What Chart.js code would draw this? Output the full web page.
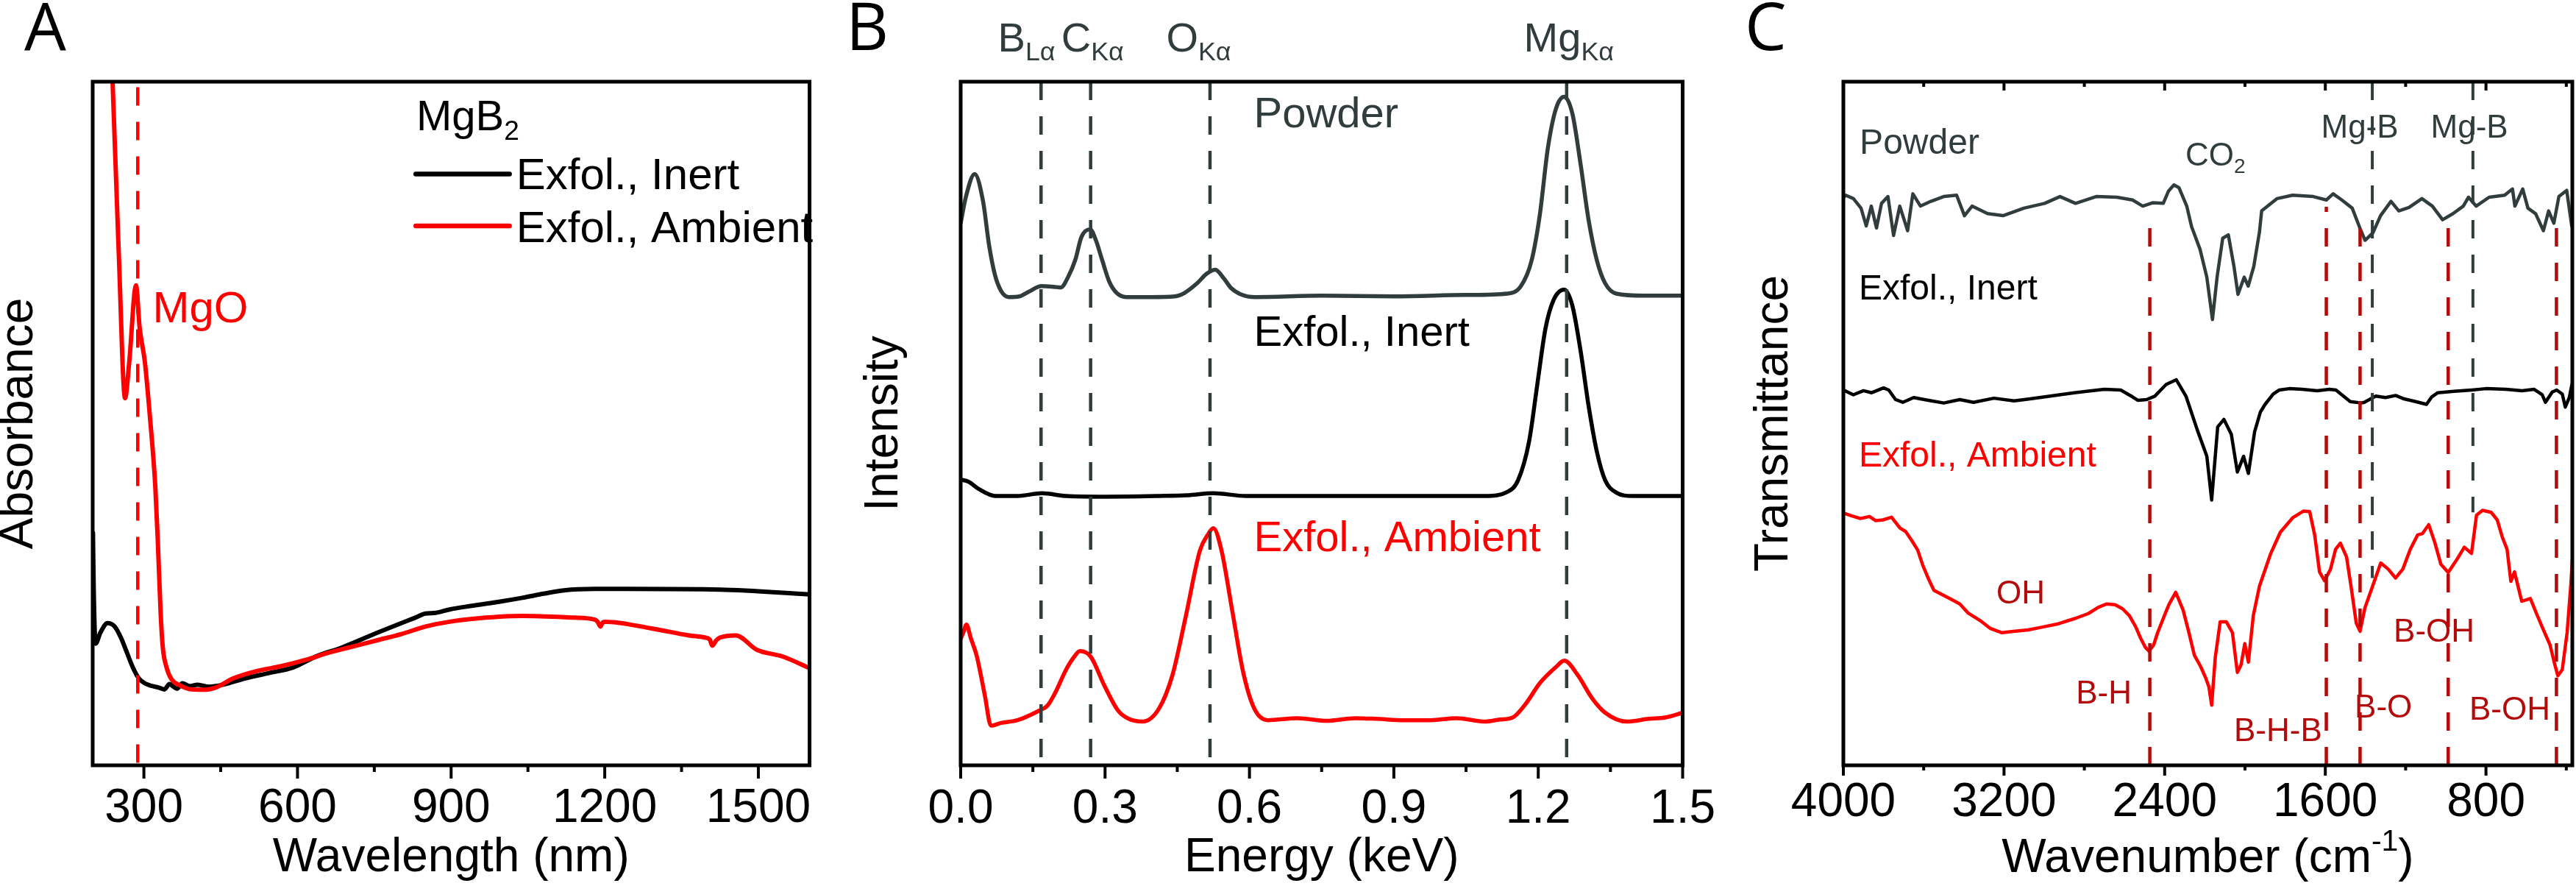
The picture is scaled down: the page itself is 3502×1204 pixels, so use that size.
<!DOCTYPE html>
<html>
<head>
<meta charset="utf-8">
<script src="https://cdn.jsdelivr.net/npm/chart.js@4.4.1/dist/chart.umd.min.js"></script>
<style>
  html, body { margin: 0; padding: 0; background: #ffffff; }
  #wrap { position: relative; width: 3502px; height: 1204px; overflow: hidden; background: #ffffff; }
  canvas { position: absolute; top: 0; }
</style>
</head>
<body>
<div id="wrap">
  <canvas id="cA" width="1130" height="1204" style="left:0px"></canvas>
  <canvas id="cB" width="1230" height="1204" style="left:1130px"></canvas>
  <canvas id="cC" width="1142" height="1204" style="left:2360px"></canvas>
</div>
<script>
// ---------------- DATA ----------------
// Panel A: UV-vis absorbance (arbitrary units, 0-100 of the axis)
const uvInertNm = [200.5, 202, 205.6, 215, 229, 243, 255, 266.8, 278.6, 290.3, 304.4, 316, 328, 340, 350, 356, 365, 375, 389, 405, 427, 455, 497, 544, 591, 638.5, 685.5, 756, 803, 830, 850, 870, 897, 937.5, 1000, 1039, 1080, 1120.6, 1180, 1242.7, 1425.7, 1600];
const uvInertAbs = [34, 25.8, 17.8, 19.4, 20.8, 20.3, 18.7, 16.5, 14.3, 12.7, 11.9, 11.6, 11.4, 11.1, 11.9, 11.6, 11.2, 12.0, 11.6, 11.8, 11.5, 11.8, 12.7, 13.5, 14.3, 16, 17.2, 19.4, 20.8, 21.6, 22.2, 22.3, 22.8, 23.3, 24.0, 24.5, 25.1, 25.6, 25.8, 25.8, 25.7, 25];
const uvAmbientNm = [236, 238.8, 251, 263.2, 271.4, 284.6, 291.7, 301.9, 312, 322.2, 327.3, 332.7, 337, 344.4, 353.8, 370.3, 393.8, 417.3, 441, 473.8, 520.8, 568, 615, 662, 709, 756, 803, 850, 897, 937.5, 1039, 1140.6, 1181, 1186, 1191.5, 1196, 1201.6, 1293, 1364.4, 1395, 1405, 1410, 1418, 1425.7, 1456, 1497, 1548, 1600];
const uvAmbientAbs = [108, 100.1, 74.8, 53.7, 59, 70.2, 64, 59, 50.8, 40.9, 32.6, 22.3, 17.2, 14.3, 12.6, 11.7, 11.1, 11.05, 11.4, 12.7, 13.8, 14.5, 15.4, 16.5, 17.4, 18.3, 19.2, 20.3, 21, 21.4, 21.85, 21.6, 21.3, 21.0, 20.3, 20.9, 21, 20, 19, 18.7, 18.4, 17.5, 18.3, 18.7, 19, 16.9, 15.9, 14.2];
const uvMgOLineNm = 288;
const uvTickValues = [300, 600, 900, 1200, 1500];
const uvTickLabels = ['300', '600', '900', '1200', '1500'];
const uvMinorTicks = [450, 750, 1050, 1350];

// Panel B: EDS intensity (offset traces)
const edsPowderKeV = [0, 0.011, 0.029, 0.0465, 0.059, 0.071, 0.084, 0.1, 0.122, 0.142, 0.168, 0.193, 0.208, 0.223, 0.238, 0.251, 0.269, 0.281, 0.294, 0.309, 0.324, 0.344, 0.395, 0.445, 0.465, 0.491, 0.511, 0.529, 0.547, 0.562, 0.582, 0.612, 0.75, 0.9, 1.05, 1.136, 1.164, 1.186, 1.203, 1.22, 1.237, 1.254, 1.271, 1.288, 1.305, 1.322, 1.339, 1.362, 1.42, 1.5];
const edsPowderCounts = [79.3, 83.2, 86.5, 82.5, 76.1, 71.8, 69.4, 68.5, 68.6, 69.3, 70.1, 70, 69.9, 71.4, 73.9, 77.3, 78.4, 76.8, 73.9, 70.7, 69.1, 68.5, 68.5, 68.6, 69.1, 70.5, 71.9, 72.5, 71.2, 69.8, 68.9, 68.5, 68.7, 68.6, 68.8, 69, 70.1, 73.8, 80.4, 90.3, 96.1, 97.8, 95.3, 87.9, 79.6, 73.8, 70.5, 69, 68.7, 68.7];
const edsInertKeV = [0, 0.016, 0.038, 0.072, 0.118, 0.169, 0.219, 0.3, 0.412, 0.47, 0.525, 0.593, 0.8, 1.09, 1.136, 1.158, 1.181, 1.198, 1.215, 1.232, 1.254, 1.271, 1.288, 1.305, 1.322, 1.339, 1.362, 1.396, 1.5];
const edsInertCounts = [41.8, 41.5, 40.4, 39.4, 39.4, 39.8, 39.4, 39.3, 39.4, 39.5, 39.8, 39.4, 39.4, 39.4, 40, 41.7, 47.4, 55.7, 63.9, 68.1, 69.6, 67.2, 60.6, 52.4, 45.8, 41.7, 39.9, 39.4, 39.4];
const edsAmbientKeV = [0, 0.006, 0.012, 0.021, 0.033, 0.05, 0.063, 0.084, 0.118, 0.163, 0.18, 0.197, 0.219, 0.235, 0.248, 0.27, 0.299, 0.327, 0.349, 0.378, 0.412, 0.44, 0.468, 0.497, 0.514, 0.525, 0.542, 0.564, 0.587, 0.61, 0.638, 0.7, 0.76, 0.82, 0.864, 0.92, 0.977, 1.03, 1.09, 1.12, 1.147, 1.175, 1.203, 1.237, 1.254, 1.282, 1.311, 1.339, 1.384, 1.43, 1.464, 1.5];
const edsAmbientCounts = [18.5, 19.5, 20.6, 18.6, 16.1, 10.3, 5.8, 6.2, 6.6, 8, 8.7, 10.7, 14, 15.8, 16.7, 15.9, 11.6, 8, 6.8, 6.4, 8.3, 13.2, 21.9, 31.4, 33.8, 34.7, 31.4, 22.7, 13.6, 8.3, 6.6, 6.9, 6.5, 6.9, 6.8, 6.6, 6.6, 6.9, 6.4, 6.7, 7, 9.1, 12, 14.4, 15.3, 13.2, 9.9, 7.7, 6.4, 6.8, 7, 7.7];
const edsLineKeV = [0.167, 0.27, 0.518, 1.259];
const edsTickValues = [0, 0.3, 0.6, 0.9, 1.2, 1.5];
const edsTickLabels = ['0.0', '0.3', '0.6', '0.9', '1.2', '1.5'];
const edsMinorTicks = [0.15, 0.45, 0.75, 1.05, 1.35];

// Panel C: FTIR transmittance (offset traces)
const ftirPowderCm = [4000, 3989, 3950, 3912, 3886, 3861, 3835, 3810, 3778, 3750, 3719, 3680, 3654, 3616, 3564, 3500, 3436, 3397, 3359, 3282, 3205, 3101, 2998, 2921, 2844, 2741, 2638, 2560, 2509, 2458, 2407, 2381, 2354, 2329, 2290, 2266, 2224, 2190, 2162, 2139, 2111, 2083, 2055, 2035, 2004, 1984, 1956, 1928, 1917, 1840, 1763, 1660, 1595, 1561, 1518, 1466, 1428, 1402, 1363, 1325, 1273, 1234, 1183, 1119, 1067, 1016, 964, 913, 887, 849, 784, 707, 668, 656, 617, 591, 553, 514, 488, 462, 437, 398, 373];
const ftirPowderT = [83, 83.4, 82.9, 81.5, 78.9, 81.8, 78.6, 82.2, 83.2, 77.5, 81.8, 78.2, 83.6, 81.8, 82.5, 83.2, 83.4, 80.4, 81.8, 80.7, 80.4, 81.5, 82.2, 83.2, 82.2, 83.2, 83.1, 82.7, 81.8, 82.3, 82.2, 84, 84.9, 84.5, 81.8, 78.8, 75.5, 71.4, 65.2, 71.4, 77.1, 77.6, 73, 68.9, 71.4, 70.1, 73, 78, 81.1, 82.9, 83.4, 83.2, 82.7, 83.6, 82.7, 81.5, 78.6, 76.8, 77.9, 80.4, 82.5, 81.1, 81.6, 82.9, 81.8, 79.8, 80.7, 81.8, 83.1, 81.8, 83.1, 83.4, 84.3, 81.8, 84.3, 81.5, 80.7, 78.2, 81.1, 79.3, 83.2, 84.1, 78.9];
const ftirInertCm = [4000, 3950, 3900, 3859, 3800, 3774, 3740, 3704, 3650, 3577, 3500, 3420, 3352, 3250, 3150, 3070, 2950, 2850, 2788, 2700, 2619, 2560, 2534, 2490, 2449, 2393, 2342, 2294, 2238, 2190, 2166, 2136, 2105, 2068, 2038, 2007, 1983, 1952, 1923, 1900, 1860, 1829, 1780, 1716, 1640, 1580, 1547, 1476, 1420, 1406, 1349, 1300, 1250, 1208, 1150, 1096, 1070, 1040, 960, 870, 800, 701, 620, 560, 520, 504, 470, 448, 420, 405, 385, 372];
const ftirInertT = [54.9, 54.2, 54.8, 54.5, 55.2, 54.9, 53.5, 53.1, 53.8, 53.4, 53.0, 53.5, 53.1, 53.7, 53.3, 53.6, 54.1, 54.5, 54.7, 55.0, 54.9, 53.9, 53.4, 53.5, 54, 55.7, 56.4, 54, 49.1, 45.2, 38.8, 49.5, 50.6, 48.4, 42.9, 45.2, 42.7, 48.8, 51.7, 52.8, 54.3, 54.9, 55.1, 55, 54.8, 55.0, 54.9, 53.2, 53.0, 53.1, 54, 53.8, 54.1, 53.6, 53.2, 52.8, 53.9, 54.5, 54.7, 54.9, 55.1, 55, 54.8, 55, 54.2, 53.1, 54.6, 54.9, 54.3, 52.4, 53.8, 55.7];
const ftirAmbientCm = [4000, 3960, 3915, 3870, 3840, 3803, 3760, 3718, 3690, 3662, 3630, 3605, 3575, 3549, 3510, 3464, 3420, 3380, 3320, 3267, 3210, 3154, 3080, 3013, 2930, 2844, 2780, 2731, 2690, 2647, 2610, 2576, 2545, 2520, 2495, 2478, 2455, 2435, 2400, 2379, 2345, 2308, 2280, 2252, 2220, 2196, 2180, 2166, 2148, 2123.5, 2093, 2062.6, 2038, 2019.5, 2001, 1983, 1958.6, 1928, 1873, 1824, 1763, 1708, 1678, 1653, 1629, 1604, 1574, 1549, 1525, 1494.5, 1470, 1446, 1427, 1403, 1360, 1324, 1287, 1250, 1214, 1177, 1140.5, 1116, 1085, 1055, 1024.5, 988, 945, 908, 872, 847, 817, 774, 744, 719, 695, 676, 658, 622, 579, 548.5, 518, 481, 457, 442, 420, 396, 377, 370];
const ftirAmbientT = [36.9, 36.5, 36.1, 36.4, 35.8, 35.9, 36.3, 34.7, 34.2, 33, 31.5, 29.3, 27.2, 25.6, 25.0, 24.3, 23.6, 22.3, 21.2, 20, 19.4, 19.6, 19.8, 20.2, 20.7, 21.5, 22.2, 23.1, 23.6, 23.5, 22.9, 21.9, 20.3, 18.6, 17.2, 16.7, 17.6, 19.4, 22.0, 23.5, 25.3, 22.7, 19.5, 16.1, 14.4, 12.8, 11.5, 8.8, 15.8, 21, 21, 19.4, 13.6, 14.7, 17.8, 15.1, 21.9, 26.2, 30.9, 34.1, 36.2, 37.2, 37.1, 33.7, 28.3, 27, 28.7, 31.6, 32.5, 30.5, 25.8, 20.8, 19.6, 23, 26.6, 29.6, 28.7, 27.4, 28.7, 31.6, 33.7, 33.9, 35.2, 32.6, 29.4, 28.2, 30.1, 31.9, 31, 36.6, 37.3, 37, 35.9, 33.4, 31.6, 26.9, 28.3, 24, 24.4, 22.2, 20.1, 17.6, 14.7, 13.1, 14, 19.4, 26.6, 30];
const ftirBondLineCm = [2474, 1595, 1427, 988, 449];
const ftirBondLineTop = [80.9, 81.7, 78.5, 78.8, 78.8];
const ftirMgBLineCm = [1366, 865];
const ftirMgBLineBottom = [27.4, 37];
const ftirTickValues = [4000, 3200, 2400, 1600, 800];
const ftirTickLabels = ['4000', '3200', '2400', '1600', '800'];
const ftirMinorTicks = [3600, 2800, 2000, 1200, 400];

// ---------------- STYLE / HELPERS ----------------
const FONT = "'Liberation Sans', Arial, Helvetica, sans-serif";
const RED = '#ff0000';
const DARKRED = '#b30b0b';
const GRAY = '#313d3d';
Chart.defaults.font.family = FONT;
Chart.defaults.color = '#000';

const pts = (xs, ys) => xs.map((x, i) => ({ x: x, y: ys[i] }));

function series(xs, ys, color, width, smooth) {
  return {
    data: pts(xs, ys), borderColor: color, borderWidth: width, pointRadius: 0, fill: false,
    tension: 0, cubicInterpolationMode: smooth ? 'monotone' : 'default',
    borderJoinStyle: 'round', borderCapStyle: 'round'
  };
}
function vline(x, y0, y1, color, width) {
  return {
    data: [{ x: x, y: y0 }, { x: x, y: y1 }], borderColor: color, borderWidth: width,
    borderDash: [25, 22], pointRadius: 0, fill: false, tension: 0, borderCapStyle: 'butt'
  };
}

function drawRich(ctx, parts, x, y, size, color, align) {
  ctx.save();
  ctx.fillStyle = color;
  ctx.textBaseline = 'alphabetic';
  ctx.textAlign = 'left';
  const segs = parts.map(p => {
    const s = (p.sub || p.sup) ? size * 0.64 : size;
    ctx.font = s + 'px ' + FONT;
    return { t: p.t, s: s, w: ctx.measureText(p.t).width, dy: p.sub ? size * 0.22 : (p.sup ? -size * 0.45 : 0) };
  });
  const total = segs.reduce((a, s) => a + s.w, 0);
  let cx = align === 'center' ? x - total / 2 : x;
  segs.forEach(s => { ctx.font = s.s + 'px ' + FONT; ctx.fillText(s.t, cx, y + s.dy); cx += s.w; });
  ctx.restore();
}

function panelPlugin(cfg) {
  return {
    id: 'panel' + cfg.letter,
    afterDraw(chart) {
      const ctx = chart.ctx, a = chart.chartArea, xs = chart.scales.x, ys = chart.scales.y;
      ctx.save();
      ctx.strokeStyle = '#000';
      ctx.lineWidth = 4;
      ctx.lineCap = 'butt';
      cfg.ticks.forEach(t => {
        const px = xs.getPixelForValue(t.v);
        ctx.beginPath();
        if (t.side === 'top') { ctx.moveTo(px, a.top); ctx.lineTo(px, a.top + t.len); }
        else { ctx.moveTo(px, a.bottom); ctx.lineTo(px, a.bottom + t.len); }
        ctx.stroke();
      });
      ctx.lineWidth = cfg.frame;
      ctx.strokeRect(a.left, a.top, a.right - a.left, a.bottom - a.top);
      (cfg.keys || []).forEach(k => {
        ctx.strokeStyle = k.color; ctx.lineWidth = 6.5; ctx.lineCap = 'round';
        ctx.beginPath();
        ctx.moveTo(xs.getPixelForValue(k.x0), ys.getPixelForValue(k.y));
        ctx.lineTo(xs.getPixelForValue(k.x1), ys.getPixelForValue(k.y));
        ctx.stroke();
      });
      cfg.texts.forEach(t => drawRich(ctx, t.parts, xs.getPixelForValue(t.x), ys.getPixelForValue(t.y), t.size, t.color, 'left'));
      if (cfg.xTitleParts) {
        drawRich(ctx, cfg.xTitleParts, (a.left + a.right) / 2, cfg.xTitleBaseline, 64, '#000', 'center');
      }
      ctx.fillStyle = '#000';
      ctx.font = "90px 'Open Sans', 'Liberation Sans', sans-serif";
      ctx.textBaseline = 'alphabetic';
      ctx.textAlign = 'left';
      ctx.fillText(cfg.letter, cfg.letterX, 68);
      ctx.restore();
    }
  };
}

function makeChart(id, o) {
  return new Chart(document.getElementById(id), {
    type: 'line',
    data: { datasets: o.datasets },
    options: {
      responsive: false, animation: false, devicePixelRatio: 1,
      layout: { padding: { top: 111, right: o.padRight, bottom: 0, left: 0 } },
      plugins: { legend: { display: false }, tooltip: { enabled: false } },
      scales: {
        x: {
          type: 'linear', min: o.xMin, max: o.xMax, reverse: !!o.reverse,
          afterFit: s => { s.height = 164; },
          afterBuildTicks: s => { s.ticks = o.tickValues.map(v => ({ value: v })); },
          grid: { display: false, drawTicks: false }, border: { display: false },
          ticks: {
            autoSkip: false, maxRotation: 0, minRotation: 0, padding: o.tickPad, color: '#000',
            font: { size: 64, lineHeight: 1 },
            callback: v => o.tickLabels[o.tickValues.indexOf(v)]
          },
          title: {
            display: !!o.xTitle, text: o.xTitle || '', color: '#000',
            font: { size: 64, lineHeight: 1 }, padding: { top: 0, bottom: 6 }
          }
        },
        y: {
          type: 'linear', min: 0, max: 100,
          afterFit: s => { s.width = o.yWidth; },
          grid: { display: false, drawTicks: false }, border: { display: false },
          ticks: { display: false },
          title: {
            display: true, text: o.yTitle, color: '#000',
            font: { size: 64, lineHeight: 0.8 }, padding: { top: o.yTitlePad, bottom: 0 }
          }
        }
      }
    },
    plugins: [panelPlugin(o.panel)]
  });
}

// ---------------- PANEL A ----------------
makeChart('cA', {
  xMin: 200, xMax: 1600, padRight: 12, yWidth: 126, tickPad: 27, yTitlePad: 1,
  tickValues: uvTickValues, tickLabels: uvTickLabels,
  xTitle: 'Wavelength (nm)', yTitle: 'Absorbance',
  datasets: [
    vline(uvMgOLineNm, 99.2, 0, RED, 4.5),
    series(uvAmbientNm, uvAmbientAbs, RED, 6, true),
    series(uvInertNm, uvInertAbs, '#000', 6, true)
  ],
  panel: {
    letter: 'A', letterX: 33, frame: 5,
    ticks: uvTickValues.map(v => ({ v: v, len: 18 })).concat(uvMinorTicks.map(v => ({ v: v, len: 9 }))),
    keys: [
      { x0: 831, x1: 1014, y: 86.5, color: '#000' },
      { x0: 831, x1: 1014, y: 78.9, color: RED }
    ],
    texts: [
      { parts: [{ t: 'MgO' }], x: 317, y: 64.8, size: 60, color: RED },
      { parts: [{ t: 'MgB' }, { t: '2', sub: true }], x: 832, y: 92.9, size: 58, color: '#000' },
      { parts: [{ t: 'Exfol., Inert' }], x: 1027, y: 84.3, size: 60, color: '#000' },
      { parts: [{ t: 'Exfol., Ambient' }], x: 1027, y: 76.5, size: 60, color: '#000' }
    ]
  }
});

// ---------------- PANEL B ----------------
makeChart('cB', {
  xMin: 0, xMax: 1.5, padRight: 64, yWidth: 176, tickPad: 28, yTitlePad: 46.5,
  tickValues: edsTickValues, tickLabels: edsTickLabels,
  xTitle: 'Energy (keV)', yTitle: 'Intensity',
  datasets: edsLineKeV.map(e => vline(e, 100, 0, GRAY, 4.5)).concat([
    series(edsPowderKeV, edsPowderCounts, GRAY, 5.5, true),
    series(edsInertKeV, edsInertCounts, '#000', 5.5, true),
    series(edsAmbientKeV, edsAmbientCounts, RED, 5.5, true)
  ]),
  panel: {
    letter: 'B', letterX: 20, frame: 5,
    ticks: edsTickValues.map(v => ({ v: v, len: 18 })).concat(edsMinorTicks.map(v => ({ v: v, len: 9 }))),
    texts: [
      { parts: [{ t: 'Powder' }], x: 0.609, y: 93.3, size: 58, color: GRAY },
      { parts: [{ t: 'Exfol., Inert' }], x: 0.609, y: 61.4, size: 58, color: '#000' },
      { parts: [{ t: 'Exfol., Ambient' }], x: 0.609, y: 31.3, size: 58, color: RED },
      { parts: [{ t: 'B' }, { t: 'L\u03b1', sub: true }], x: 0.0773, y: 104.4, size: 56, color: GRAY },
      { parts: [{ t: 'C' }, { t: 'K\u03b1', sub: true }], x: 0.209, y: 104.4, size: 56, color: GRAY },
      { parts: [{ t: 'O' }, { t: 'K\u03b1', sub: true }], x: 0.427, y: 104.4, size: 56, color: GRAY },
      { parts: [{ t: 'Mg' }, { t: 'K\u03b1', sub: true }], x: 1.17, y: 104.4, size: 56, color: GRAY }
    ]
  }
});

// ---------------- PANEL C ----------------
makeChart('cC', {
  xMin: 370, xMax: 4000, reverse: true, padRight: 5, yWidth: 146, tickPad: 19.5, yTitlePad: 27,
  tickValues: ftirTickValues, tickLabels: ftirTickLabels,
  xTitle: null, yTitle: 'Transmittance',
  datasets: ftirBondLineCm.map((w, i) => vline(w, 0, ftirBondLineTop[i], DARKRED, 4.5))
    .concat(ftirMgBLineCm.map((w, i) => vline(w, 100, ftirMgBLineBottom[i], GRAY, 4)))
    .concat([
      series(ftirPowderCm, ftirPowderT, GRAY, 4.5, false),
      series(ftirInertCm, ftirInertT, '#000', 4.5, false),
      series(ftirAmbientCm, ftirAmbientT, RED, 4.5, false)
    ]),
  panel: {
    letter: 'C', letterX: 12, frame: 5,
    xTitleParts: [{ t: 'Wavenumber (cm' }, { t: '-1', sup: true }, { t: ')' }], xTitleBaseline: 1185,
    ticks: ftirTickValues.map(v => ({ v: v, len: 14 }))
      .concat(ftirMinorTicks.map(v => ({ v: v, len: 7 })))
      .concat(ftirTickValues.slice(1).map(v => ({ v: v, len: 12, side: 'top' })))
      .concat(ftirMinorTicks.map(v => ({ v: v, len: 7, side: 'top' }))),
    texts: [
      { parts: [{ t: 'Powder' }], x: 3919, y: 89.5, size: 48, color: GRAY },
      { parts: [{ t: 'CO' }, { t: '2', sub: true }], x: 2297, y: 87.7, size: 44, color: GRAY },
      { parts: [{ t: 'Mg-B' }], x: 1621, y: 91.8, size: 44, color: GRAY },
      { parts: [{ t: 'Mg-B' }], x: 1075, y: 91.8, size: 44, color: GRAY },
      { parts: [{ t: 'Exfol., Inert' }], x: 3923, y: 68.1, size: 48, color: '#000' },
      { parts: [{ t: 'Exfol., Ambient' }], x: 3923, y: 43.7, size: 48, color: RED },
      { parts: [{ t: 'OH' }], x: 3238, y: 23.7, size: 44, color: DARKRED },
      { parts: [{ t: 'B-H' }], x: 2842, y: 9.0, size: 44, color: DARKRED },
      { parts: [{ t: 'B-H-B' }], x: 2055, y: 3.55, size: 44, color: DARKRED },
      { parts: [{ t: 'B-O' }], x: 1454, y: 7.0, size: 44, color: DARKRED },
      { parts: [{ t: 'B-OH' }], x: 1260, y: 18.1, size: 44, color: DARKRED },
      { parts: [{ t: 'B-OH' }], x: 883, y: 6.7, size: 44, color: DARKRED }
    ]
  }
});
</script>
</body>
</html>
